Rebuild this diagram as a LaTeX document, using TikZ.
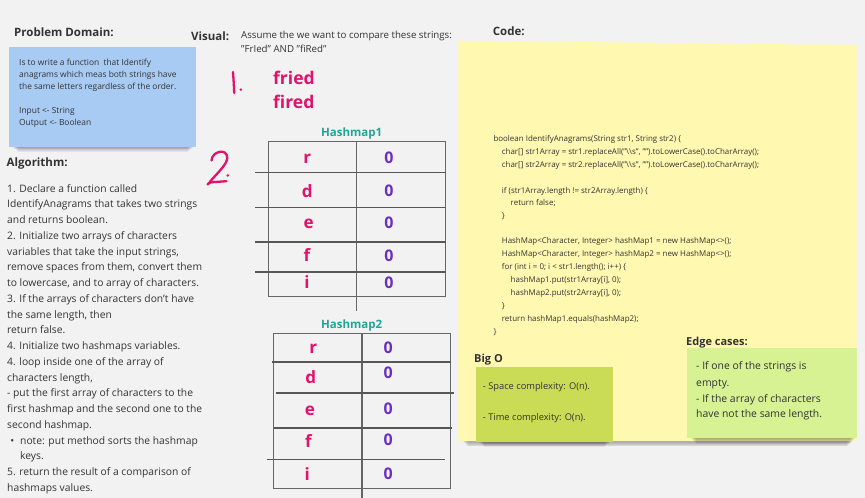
\documentclass[tikz,border=0pt]{standalone}
\usepackage{fontspec}
\setmainfont{Open Sans}
\definecolor{bgc}{HTML}{F2F2F2}
\definecolor{txt}{HTML}{333333}
\definecolor{pinkc}{HTML}{E2126A}
\definecolor{tealc}{HTML}{22A596}
\definecolor{purplec}{HTML}{6A2EC2}
\definecolor{bluen}{HTML}{A8CBF3}
\definecolor{yellown}{HTML}{FFF8B0}
\definecolor{limen}{HTML}{CADC56}
\definecolor{greenn}{HTML}{D6F293}
\definecolor{gridc}{HTML}{666666}
\newcommand\myfs[1]{\fontsize{#1}{#1}\selectfont}
\tikzset{
  title/.style={anchor=base west,inner sep=0,font=\bfseries\myfs{11.5},text=txt},
  line/.style={anchor=base west,inner sep=0,text=txt},
  hand/.style={draw=pinkc,line width=2.3pt,line cap=round,line join=round},
  letter/.style={inner sep=0,font=\bfseries\myfs{17},text=pinkc},
  zero/.style={inner sep=0,font=\bfseries\myfs{16},text=purplec},
  hmtitle/.style={anchor=base,inner sep=0,font=\bfseries\myfs{11.5},text=tealc},
  tbl/.style={draw=gridc,line width=1.3pt},
  hline/.style={draw=gridc!85!black,line width=1.6pt},
}
\newcommand\shadowbelow[3]{% x1, x2, ybottom
  \foreach \k in {1,...,6}{
    \fill[black,opacity=0.06] (#1+\k,#3-4) rectangle (#2-\k,#3+\k*0.9);
  }
}
\begin{document}
\begin{tikzpicture}[x=1pt,y=-1pt]
\useasboundingbox (0,0) rectangle (865,498);
\fill[bgc] (0,0) rectangle (865,498);

% ---------------- Problem domain
\node[title] (pdt) at (14,36) {Problem Domain:};
\shadowbelow{12}{194}{146.7}
\fill[bluen] (9,46.7) rectangle (196,146.7);
\begin{scope}[every node/.style={line,font=\myfs{8.4},text=txt}]
\node (pd1) at (19,65.4) {Is to write a function\ \ that Identify};
\node (pd2) at (19,77.6) {anagrams which meas both strings have};
\node (pd3) at (19,89.8) {the same letters regardless of the order.};
\node (pd4) at (19,113.4) {Input <- String};
\node (pd5) at (19,125.6) {Output <- Boolean};
\end{scope}

% ---------------- Algorithm
\node[title] (algt) at (6.5,166.7) {Algorithm:};
\foreach \t [count=\i] in {
 {1. Declare a function called},
 {IdentifyAnagrams that takes two strings},
 {and returns boolean.},
 {2. Initialize two arrays of characters},
 {variables that take the input strings,},
 {remove spaces from them, convert them},
 {to lowercase, and to array of characters.},
 {3. If the arrays of characters don't have},
 {the same length, then},
 {return false.},
 {4. Initialize two hashmaps variables.},
 {4. loop inside one of the array of},
 {characters length,},
 {- put the first array of characters to the},
 {first hashmap and the second one to the},
 {second hashmap.},
 {\hspace*{13pt}\llap{\textbullet\hspace{6pt}}note: put method sorts the hashmap},
 {\hspace*{13pt}keys.},
 {5. return the result of a comparison of},
 {hashmaps values.}}
 \node[line,font=\myfs{10.3}] (alg\i) at (7,192.1+15.75*\i-15.75) {\t};

% ---------------- Visual
\node[title] (vist) at (191,40) {Visual:};
\node[line,font=\myfs{9.7}] (vis1) at (241,38.3) {Assume the we want to compare these strings:};
\node[line,font=\myfs{9.7}] (vis2) at (241,52.6) {"FrIed" AND "fiRed"};
% handwritten 1.
\draw[hand] (233,72) .. controls (233.6,80) and (234,87) .. (234.2,93);
\fill[pinkc] (240.8,89.6) circle (1.4);
\node[anchor=base west,inner sep=0,font=\bfseries\myfs{17.5},text=pinkc] (w1) at (273,84) {fried};
\node[anchor=base west,inner sep=0,font=\bfseries\myfs{17.5},text=pinkc] (w2) at (273,108) {fired};
% handwritten 2.
\draw[hand] (211.5,160.5) .. controls (212,151) and (227,148) .. (227.3,157.5)
  .. controls (227.5,165) and (214,176) .. (209.5,182.5)
  .. controls (207,186.5) and (206.5,183.5) .. (211,182.3) -- (226.5,181.2);
\fill[pinkc] (227.8,175.4) circle (1.4);

% ---------------- Hashmap1
\node[hmtitle] (hm1) at (351.7,136.7) {Hashmap1};
\draw[tbl] (268.3,141.7) rectangle (445.7,296.7);
\draw[tbl] (356.7,141.7) -- (356.7,311);
\draw[hline] (255,172.3) -- (445.7,172.3);
\draw[hline] (255,207.3) -- (445.7,207.3);
\draw[hline] (255,241.7) -- (445.7,241.7);
\draw[hline] (255,272) -- (445.7,272);
\foreach \l/\x/\y [count=\i] in {r/307.3/160,d/307.3/193.3,e/308.7/225,f/307/258,i/307/285}
  \node[letter] (a\i) at (\x,\y) {\strut\l};
\foreach \y [count=\i] in {160,193.3,225,258,285}
  \node[zero] (b\i) at (389,\y) {\strut 0};

% ---------------- Hashmap2
\node[hmtitle] (hm2) at (351.7,328.3) {Hashmap2};
\draw[tbl] (273.3,333.3) rectangle (450.7,488.3);
\draw[tbl] (362,333.3) -- (362,498);
\draw[hline] (272.3,361.7) -- (450.7,361.7);
\draw[hline] (276,393) -- (454.3,393);
\draw[hline] (274.3,427.7) -- (451.7,427.7);
\draw[hline] (266.7,459.3) -- (445,459.3);
\foreach \l/\x/\y [count=\i] in {r/313.3/350,d/310.7/380,e/310/411.7,f/308.3/443.3,i/307.3/476.7}
  \node[letter] (c\i) at (\x,\y) {\strut\l};
\foreach \y [count=\i] in {350,375.5,411,442.5,476}
  \node[zero] (d\i) at (388.3,\y) {\strut 0};

% ---------------- Code
\node[title] (codet) at (492.7,35) {Code:};
\shadowbelow{462}{853}{441}
\fill[yellown] (458.3,40.7) -- (856.7,45) -- (856.7,441) -- (458.3,441) -- cycle;
\begin{scope}[every node/.style={line,font=\myfs{7.95},text=txt}]
\node (k1) at (493.3,141.4) {boolean IdentifyAnagrams(String str1, String str2) \{};
\node (k2) at (501.7,154.6) {char[] str1Array = str1.replaceAll("\textbackslash\textbackslash s", "").toLowerCase().toCharArray();};
\node (k3) at (501.7,167.4) {char[] str2Array = str2.replaceAll("\textbackslash\textbackslash s", "").toLowerCase().toCharArray();};
\node (k4) at (501.7,193.1) {if (str1Array.length != str2Array.length) \{};
\node (k5) at (510.5,205.4) {return false;};
\node (k6) at (501.7,218.1) {\}};
\node (k7) at (501.7,243.8) {HashMap<Character, Integer> hashMap1 = new HashMap<>();};
\node (k8) at (501.7,256.8) {HashMap<Character, Integer> hashMap2 = new HashMap<>();};
\node (k9) at (501.7,269.4) {for (int i = 0; i < str1.length(); i++) \{};
\node (k10) at (510.5,282.4) {hashMap1.put(str1Array[i], 0);};
\node (k11) at (510.5,295.4) {hashMap2.put(str2Array[i], 0);};
\node (k12) at (501.7,308.1) {\}};
\node (k13) at (501.7,321.1) {return hashMap1.equals(hashMap2);};
\node (k14) at (493.3,334.1) {\}};
\end{scope}

% ---------------- Big O
\node[title,font=\bfseries\myfs{11}] (bigt) at (474,362) {Big O};
\shadowbelow{478}{611}{441.7}
\fill[limen] (475.7,367.3) rectangle (613.3,441.7);
\node[line,font=\myfs{9.3}] (bo1) at (482.7,389.7) {- Space complexity: O(n).};
\node[line,font=\myfs{9.3}] (bo2) at (482.7,420.7) {- Time complexity: O(n).};

% ---------------- Edge cases
\node[title,font=\bfseries\myfs{11}] (edt) at (686,345.7) {Edge cases:};
\shadowbelow{690}{856}{438.3}
\fill[greenn] (687.3,348.3) rectangle (857,438.3);
\begin{scope}[every node/.style={line,font=\myfs{10.4},text=txt}]
\node (e1) at (696,369.4) {- If one of the strings is};
\node (e2) at (696,386) {empty.};
\node (e3) at (696,402) {- If the array of characters};
\node (e4) at (696,417) {have not the same length.};
\end{scope}
\end{tikzpicture}
\end{document}
